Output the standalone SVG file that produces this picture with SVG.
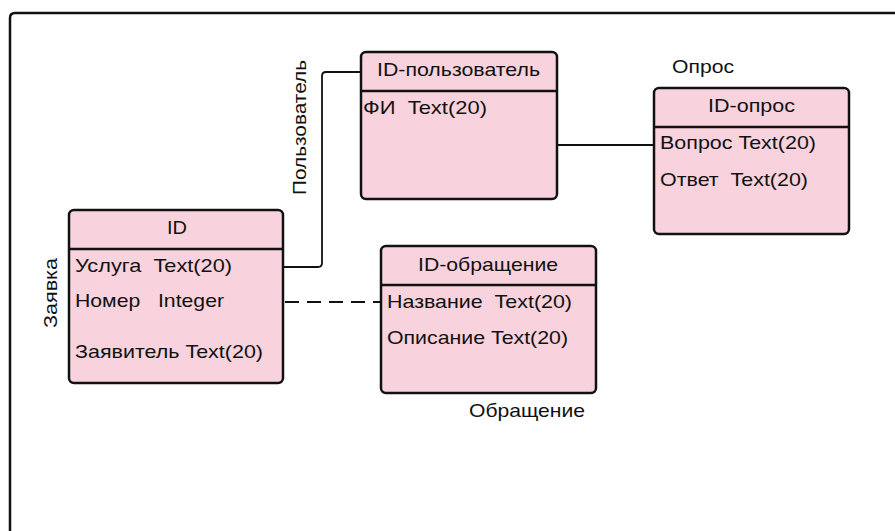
<svg xmlns="http://www.w3.org/2000/svg" width="895" height="531" viewBox="0 0 895 531">
<style>
text{font-family:"Liberation Sans",Arial,sans-serif;font-size:18.5px;fill:#111;white-space:pre}
.box{fill:#f8d3dd;stroke:#111;stroke-width:2.5}
.div{stroke:#111;stroke-width:2.5}
.conn{fill:none;stroke:#111;stroke-width:1.8}
.mid{text-anchor:middle}
</style>
<rect width="895" height="531" fill="#fff"/>
<path d="M10,531 V18 Q10,13 15,13 H895" fill="none" stroke="#111" stroke-width="2.5"/>
<g id="connectors">
<path class="conn" d="M283,267 H318 Q322,267 322,263 V76 Q322,72 326,72 H361"/>
<path class="conn" d="M557,145 H654"/>
<path class="conn" d="M285,302 H381" stroke-dasharray="14 8"/>
</g>
<g id="zayavka">
<rect class="box" x="69" y="210" width="214" height="173" rx="5"/>
<line class="div" x1="69" y1="249" x2="283" y2="249"/>
<text class="mid" x="177" y="234" textLength="20" lengthAdjust="spacingAndGlyphs">ID</text>
<text x="75" y="272" textLength="157" lengthAdjust="spacingAndGlyphs">Услуга  Text(20)</text>
<text x="75" y="307" textLength="149" lengthAdjust="spacingAndGlyphs">Номер   Integer</text>
<text x="75" y="358" textLength="188" lengthAdjust="spacingAndGlyphs">Заявитель Text(20)</text>
<text transform="translate(57,328) rotate(-90)" textLength="70" lengthAdjust="spacingAndGlyphs">Заявка</text>
</g>
<g id="polzovatel">
<rect class="box" x="361" y="52" width="196" height="147" rx="5"/>
<line class="div" x1="361" y1="91" x2="557" y2="91"/>
<text x="377" y="76" textLength="163" lengthAdjust="spacingAndGlyphs">ID-пользователь</text>
<text x="363" y="114" textLength="124" lengthAdjust="spacingAndGlyphs">ФИ  Text(20)</text>
<text transform="translate(306,195) rotate(-90)" textLength="135" lengthAdjust="spacingAndGlyphs">Пользователь</text>
</g>
<g id="opros">
<rect class="box" x="654" y="88" width="195" height="146" rx="5"/>
<line class="div" x1="654" y1="127" x2="849" y2="127"/>
<text x="708" y="112" textLength="87" lengthAdjust="spacingAndGlyphs">ID-опрос</text>
<text x="660" y="149" textLength="156" lengthAdjust="spacingAndGlyphs">Вопрос Text(20)</text>
<text x="660" y="186" textLength="148" lengthAdjust="spacingAndGlyphs">Ответ  Text(20)</text>
<text x="672" y="73" textLength="62" lengthAdjust="spacingAndGlyphs">Опрос</text>
</g>
<g id="obrashchenie">
<rect class="box" x="381" y="246" width="215" height="147" rx="5"/>
<line class="div" x1="381" y1="285" x2="596" y2="285"/>
<text x="418" y="271" textLength="140" lengthAdjust="spacingAndGlyphs">ID-обращение</text>
<text x="387" y="308" textLength="185" lengthAdjust="spacingAndGlyphs">Название  Text(20)</text>
<text x="387" y="344" textLength="181" lengthAdjust="spacingAndGlyphs">Описание Text(20)</text>
<text x="469" y="417" textLength="116" lengthAdjust="spacingAndGlyphs">Обращение</text>
</g>
</svg>
